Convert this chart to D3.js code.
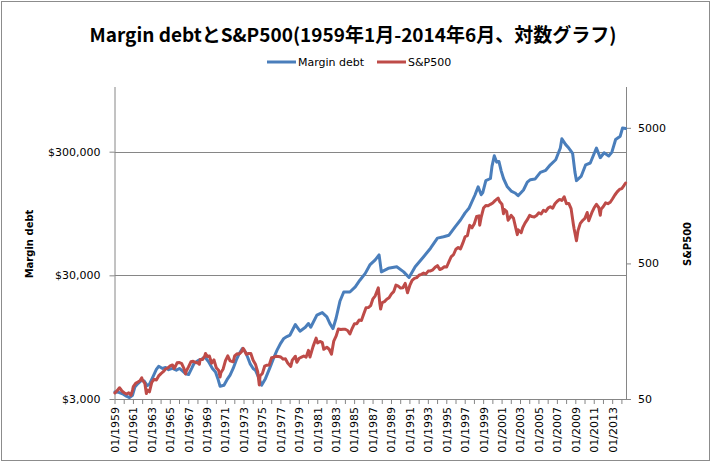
<!DOCTYPE html>
<html>
<head>
<meta charset="utf-8">
<script src="https://cdn.jsdelivr.net/npm/d3@7"></script>
<style>
  body { margin: 0; background: #fff; }
  text { font-family: "DejaVu Sans", sans-serif; }
</style>
</head>
<body>
<script>
// margin debt ($ millions)
var mdDates = ["1959-01","1959-06","1959-12","1960-04","1960-08","1960-12","1961-03","1961-07","1961-12","1962-03","1962-07","1962-10",
  "1963-03","1963-07","1963-10","1964-03","1964-07","1964-11","1965-04","1965-09","1966-01","1966-05","1966-09","1967-01","1967-05","1967-08",
  "1968-02","1968-06","1968-10","1969-03","1969-08","1969-12","1970-03","1970-06","1970-11","1971-03","1971-07","1971-11","1972-03","1972-07",
  "1972-11","1973-03","1973-06","1973-09","1974-01","1974-04","1974-08","1974-12","1975-05","1975-11","1976-04","1976-08","1977-01","1977-05",
  "1977-09","1978-01","1978-08","1979-02","1979-09","1980-01","1980-04","1980-12","1981-07","1982-01","1982-05","1982-09","1983-01","1983-06",
  "1983-11","1984-07","1985-02","1985-08","1986-03","1986-09","1987-04","1987-09","1987-12","1988-09","1989-08","1990-05","1990-12","1991-08",
  "1992-07","1993-04","1994-01","1994-09","1995-04","1995-12","1996-07","1997-01","1997-06","1998-02","1998-06","1998-10","1998-12","1999-04",
  "1999-10","1999-12","2000-03","2000-06","2000-09","2000-12","2001-03","2001-08","2002-01","2002-06","2002-10","2003-05","2003-10","2004-02",
  "2004-08","2005-03","2005-10","2006-04","2006-11","2007-05","2007-07","2007-12","2008-04","2008-09","2008-12","2009-02","2009-08","2010-02",
  "2010-08","2011-04","2011-09","2012-02","2012-08","2012-12","2013-05","2013-11","2014-02","2014-06"];
var mdValues = [3420,3400,3280,3160,3080,3220,3750,4000,4260,4200,3850,3950,
  4600,5200,5520,5300,5400,5180,5300,5130,5300,5060,4800,4730,5300,5810,
  6180,6300,6570,6000,5300,4970,4400,3800,3880,4300,4680,5300,6180,7000,
  7670,7200,6500,5800,5300,5130,4500,3870,4380,5400,6500,7420,8500,9270,
  9600,9870,12000,10600,11400,12240,11400,14300,15000,13850,12200,11130,13500,18500,
  22000,22000,24200,27400,31100,36400,40000,43900,32000,34200,35200,32000,28800,35200,
  42400,49700,60000,61500,63300,74000,84000,96000,104500,134500,156000,134500,140000,175000,
  182000,228000,278000,247000,250000,210000,182000,156000,144000,139000,132000,147000,170000,178000,
  180000,204000,212000,235000,258000,321000,381000,342000,321000,290000,205000,175000,189000,235000,
  243000,321000,268000,294000,277000,296000,376000,400000,466000,462000];

// S&P500 monthly close
var spDates = ["1959-01","1959-04","1959-07","1959-10","1960-01","1960-04","1960-07","1960-10","1960-12","1961-01","1961-04","1961-07","1961-10","1961-12",
  "1962-01","1962-04","1962-06","1962-07","1962-10","1963-01","1963-04","1963-07","1963-10","1964-01","1964-04","1964-07","1964-10",
  "1965-01","1965-04","1965-06","1965-07","1965-10","1966-01","1966-04","1966-07","1966-09","1966-10","1967-01","1967-04","1967-07","1967-10",
  "1968-01","1968-03","1968-04","1968-07","1968-10","1968-11","1969-01","1969-04","1969-07","1969-10","1970-01","1970-04","1970-06","1970-07","1970-10",
  "1971-01","1971-04","1971-07","1971-11","1972-01","1972-04","1972-07","1972-10","1972-12","1973-01","1973-04","1973-07","1973-10",
  "1974-01","1974-04","1974-07","1974-09","1974-10","1975-01","1975-04","1975-07","1975-10","1976-01","1976-04","1976-07","1976-10",
  "1977-01","1977-04","1977-07","1977-10","1978-02","1978-04","1978-08","1978-10","1979-01","1979-04","1979-07","1979-10",
  "1980-01","1980-03","1980-07","1980-11","1981-01","1981-04","1981-07","1981-09","1982-01","1982-04","1982-07","1982-10",
  "1983-01","1983-04","1983-07","1983-10","1984-01","1984-04","1984-07","1984-10","1985-01","1985-04","1985-07","1985-10",
  "1986-01","1986-04","1986-07","1986-10","1987-01","1987-04","1987-08","1987-10","1987-11","1988-01","1988-04","1988-07","1988-10",
  "1989-01","1989-04","1989-07","1989-10","1990-01","1990-04","1990-07","1990-10","1991-01","1991-04","1991-07","1991-10",
  "1992-01","1992-04","1992-07","1992-10","1993-01","1993-04","1993-07","1993-10","1994-01","1994-04","1994-07","1994-10",
  "1995-01","1995-04","1995-07","1995-10","1996-01","1996-04","1996-07","1996-10","1997-01","1997-04","1997-07","1997-10",
  "1998-01","1998-04","1998-07","1998-08","1998-10","1999-01","1999-04","1999-07","1999-10","2000-01","2000-04","2000-08","2000-10",
  "2001-01","2001-03","2001-04","2001-07","2001-09","2001-10","2002-01","2002-04","2002-07","2002-09","2002-10","2003-02","2003-04","2003-07","2003-10",
  "2004-01","2004-04","2004-07","2004-10","2005-01","2005-04","2005-07","2005-10","2006-01","2006-04","2006-07","2006-10",
  "2007-01","2007-04","2007-07","2007-10","2008-01","2008-04","2008-07","2008-10","2008-11","2009-02","2009-04","2009-07","2009-10",
  "2010-01","2010-04","2010-06","2010-10","2011-01","2011-04","2011-07","2011-09","2011-10","2012-01","2012-04","2012-07","2012-10",
  "2013-01","2013-04","2013-07","2013-10","2014-01","2014-04","2014-06"];
var spValues = [55.4,57.6,60.5,57.5,55.6,54.4,55.5,53.4,58.1,61.8,65.3,66.8,68.6,71.6,
  68.8,65.2,54.8,58.2,56.5,66.2,69.8,69.1,74.0,77.0,79.5,83.2,84.9,
  87.6,89.1,84.1,85.3,92.4,92.9,91.1,83.6,76.6,80.2,86.6,94.0,94.8,93.3,
  92.2,90.2,97.6,97.7,103.4,108.4,103.0,103.7,91.8,97.1,85.0,81.5,72.7,78.1,83.3,
  95.9,104.0,95.6,94.0,103.9,107.7,107.4,111.6,118.1,116.0,107.0,108.2,108.3,
  96.6,90.3,79.3,63.5,73.9,77.0,87.3,88.8,89.0,100.9,101.6,103.4,102.9,
  102.0,98.4,98.9,92.3,87.0,96.8,103.3,93.2,99.9,101.8,103.8,101.8,
  114.2,102.1,121.7,140.5,129.6,132.8,130.9,116.2,120.4,116.4,107.1,133.7,
  145.3,164.4,162.6,163.6,163.4,160.1,150.7,166.1,179.6,179.8,190.9,189.8,
  211.8,235.5,236.1,244.0,274.1,288.4,329.8,251.8,230.3,257.1,261.3,272.0,279.0,
  297.5,309.6,346.1,340.4,329.1,330.8,356.2,304.0,343.9,375.4,387.8,392.5,
  408.8,415.0,424.2,418.7,438.8,440.2,448.1,467.8,481.6,450.9,458.3,472.4,
  470.4,514.7,562.1,581.5,636.0,654.2,640.0,705.3,786.2,801.3,954.3,914.6,
  980.3,1111.8,1120.7,957.3,1098.7,1279.6,1335.2,1328.7,1362.9,1394.5,1452.4,1517.7,1429.4,
  1366.0,1160.3,1249.5,1211.2,1040.9,1059.8,1130.2,1076.9,911.6,815.3,885.8,841.2,916.9,990.3,1050.7,
  1131.1,1107.3,1101.7,1130.2,1181.3,1156.9,1234.2,1207.0,1280.1,1310.6,1276.7,1377.9,
  1438.2,1482.4,1455.3,1549.4,1378.6,1385.6,1267.4,968.8,896.2,735.1,872.8,987.5,1036.2,
  1073.9,1186.7,1030.7,1183.3,1286.1,1363.6,1292.3,1131.4,1253.3,1312.4,1397.9,1379.3,1412.2,
  1498.1,1597.6,1685.7,1756.5,1782.6,1884.0,1960.2];

var xLabels = ["01/1959","01/1961","01/1963","01/1965","01/1967","01/1969","01/1971","01/1973","01/1975","01/1977",
  "01/1979","01/1981","01/1983","01/1985","01/1987","01/1989","01/1991","01/1993","01/1995","01/1997",
  "01/1999","01/2001","01/2003","01/2005","01/2007","01/2009","01/2011","01/2013"];
var leftTicks = [3000, 30000, 300000];
var rightTicks = [50, 500, 5000];
var nMonths = 666; // 1959-01 .. 2014-06

var W = 712, H = 464;
var plotLeft = 114.5, plotRight = 626, plotTop = 87, plotBottom = 399;

function monthIndex(s) {
  var p = s.split("-");
  return (+p[0] - 1959) * 12 + (+p[1] - 1);
}

var svg = d3.select("body").append("svg")
  .attr("width", W).attr("height", H);

svg.append("rect")
  .attr("x", 1.5).attr("y", 1.5).attr("width", 708).attr("height", 459)
  .attr("fill", "#fff").attr("stroke", "#8c8c8c");

var x = d3.scaleLinear().domain([0, nMonths]).range([plotLeft, plotRight]);
var yL = d3.scaleLog().domain([3000, 1000000]).range([plotBottom, plotTop]);
var yR = d3.scaleLog().domain([50, 10000]).range([plotBottom, plotTop]);

// gridlines from left axis
svg.append("g").selectAll("line")
  .data(leftTicks.slice(1))
  .enter().append("line")
  .attr("x1", plotLeft).attr("x2", plotRight)
  .attr("y1", function (d) { return Math.round(yL(d)) + 0.5; })
  .attr("y2", function (d) { return Math.round(yL(d)) + 0.5; })
  .attr("stroke", "#868686");

// x axis, ticks every 12 months, labels every 24
var xAxis = d3.axisBottom(x)
  .tickValues(d3.range(0, nMonths + 1, 12))
  .tickSize(5)
  .tickFormat(function (d) { return d % 24 === 0 ? xLabels[d / 24] : ""; });

var gx = svg.append("g")
  .attr("transform", "translate(0," + plotBottom + ")")
  .call(xAxis);
gx.selectAll("text")
  .attr("transform", "rotate(-90)")
  .attr("text-anchor", "end")
  .attr("x", -8).attr("y", 0).attr("dy", "0.35em")
  .attr("font-size", "11px").attr("fill", "#000");

var gl = svg.append("g")
  .attr("transform", "translate(" + plotLeft + ",0)")
  .call(d3.axisLeft(yL).tickValues(leftTicks).tickSize(5).tickPadding(9)
    .tickFormat(function (d) { return "$" + d3.format(",")(d); }));
gl.selectAll("text").attr("font-size", "11px").attr("fill", "#000");

var gr = svg.append("g")
  .attr("transform", "translate(" + plotRight + ",0)")
  .call(d3.axisRight(yR).tickValues(rightTicks).tickSize(5).tickPadding(7)
    .tickFormat(d3.format("d")));
gr.selectAll("text").attr("font-size", "11px").attr("fill", "#000");

[gx, gl, gr].forEach(function (g) {
  g.select(".domain").attr("stroke", "#868686");
  g.selectAll(".tick line").attr("stroke", "#868686");
});
gl.select(".domain").attr("d", "M0.5," + plotTop + "V" + plotBottom);
gr.select(".domain").attr("d", "M0.5," + plotTop + "V" + plotBottom);
gx.select(".domain").attr("d", "M" + plotLeft + ",0.5H" + plotRight);

// series
var mdData = mdDates.map(function (d, i) { return { m: monthIndex(d), v: mdValues[i] }; });
var spData = spDates.map(function (d, i) { return { m: monthIndex(d), v: spValues[i] }; });

svg.append("path")
  .datum(mdData)
  .attr("fill", "none").attr("stroke", "#4a7ebb").attr("stroke-width", 3)
  .attr("stroke-linejoin", "round").attr("stroke-linecap", "round")
  .attr("d", d3.line().x(function (d) { return x(d.m + 0.5); }).y(function (d) { return yL(d.v); }));

svg.append("path")
  .datum(spData)
  .attr("fill", "none").attr("stroke", "#be4b48").attr("stroke-width", 3)
  .attr("stroke-linejoin", "round").attr("stroke-linecap", "round")
  .attr("d", d3.line().x(function (d) { return x(d.m + 0.5); }).y(function (d) { return yR(d.v); }));

// title
svg.append("text")
  .attr("x", 353).attr("y", 42)
  .attr("text-anchor", "middle")
  .style("font-family", "'Noto Sans CJK JP', sans-serif")
  .attr("font-weight", "bold").attr("font-size", "19px")
  .text("Margin debtとS&P500(1959年1月-2014年6月、対数グラフ)");

// legend
var legend = [{ name: "Margin debt", color: "#4a7ebb", x: 267 }, { name: "S&P500", color: "#be4b48", x: 377 }];
var lg = svg.append("g").selectAll("g").data(legend).enter().append("g");
lg.append("line")
  .attr("x1", function (d) { return d.x; }).attr("x2", function (d) { return d.x + 29; })
  .attr("y1", 62).attr("y2", 62)
  .attr("stroke", function (d) { return d.color; }).attr("stroke-width", 3);
lg.append("text")
  .attr("x", function (d) { return d.x + 31; }).attr("y", 66)
  .attr("font-size", "11px")
  .text(function (d) { return d.name; });

// axis titles
svg.append("text")
  .attr("transform", "translate(33,244) rotate(-90)")
  .attr("text-anchor", "middle").attr("font-weight", "bold").attr("font-size", "10px")
  .text("Margin debt");
svg.append("text")
  .attr("transform", "translate(691,244) rotate(-90)")
  .attr("text-anchor", "middle").attr("font-weight", "bold").attr("font-size", "10px")
  .text("S&P500");
</script>
</body>
</html>
